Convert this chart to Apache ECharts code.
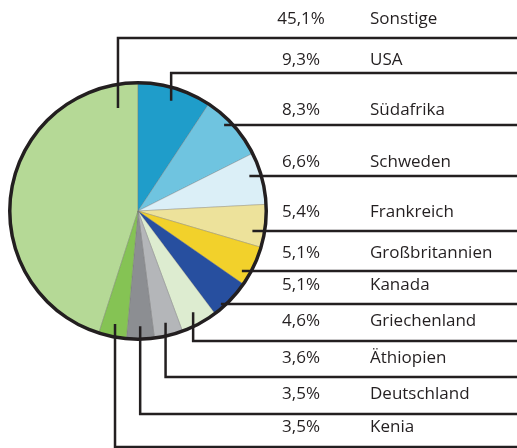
<!DOCTYPE html>
<html>
<head>
<meta charset="utf-8">
<script src="https://cdn.jsdelivr.net/npm/echarts@6/dist/echarts.min.js"></script>
<style>
  html, body { margin: 0; padding: 0; background: #fff; }
  #chart { width: 517px; height: 448px; }
</style>
</head>
<body>
<div id="chart"></div>
<script>
// Anteile in Prozent, Reihenfolge wie die Beschriftung rechts
const countries = ['Sonstige', 'USA', 'Südafrika', 'Schweden', 'Frankreich', 'Großbritannien', 'Kanada', 'Griechenland', 'Äthiopien', 'Deutschland', 'Kenia']
const shares = [45.1, 9.3, 8.3, 6.6, 5.4, 5.1, 5.1, 4.6, 3.6, 3.5, 3.5]
const colors = ['#b5d996', '#1f9dca', '#6fc4e0', '#dbeff7', '#ede29b', '#f2d12b', '#274f9f', '#ddecd0', '#b4b6b9', '#8c8e92', '#85c354']

// Layout
const CX = 138, CY = 211, R = 128
const lineY = [38, 73, 125, 176, 231, 271, 304, 341, 377, 414, 447] // y der Linien
const textY = [19, 60, 110, 162, 212, 253, 285, 321, 358, 394, 427] // y der Texte
const ink = '#231f20'

const total = shares.reduce((a, b) => a + b, 0)
// Sonstige endet oben, danach USA im Uhrzeigersinn
const startAngle = 90 + 360 * shares[0] / total

function fmt(v) {
  return v.toFixed(1).replace('.', ',') + '%'
}

const chart = echarts.init(document.getElementById('chart'))

const pieData = countries.map((name, i) => ({
  name: name,
  value: shares[i],
  itemStyle: { color: colors[i] }
}))

chart.setOption({
  animation: false,
  textStyle: { fontFamily: 'Open Sans' },
  series: [
    {
      type: 'pie',
      center: [CX, CY],
      radius: R,
      startAngle: startAngle,
      silent: true,
      itemStyle: { borderColor: 'rgba(110,110,110,0.55)', borderWidth: 0.6 },
      label: { show: false },
      labelLine: { show: false },
      data: pieData
    },
    {
      // schwarzer Rand
      type: 'pie',
      center: [CX, CY],
      radius: [R - 1.5, R + 2],
      silent: true,
      label: { show: false },
      labelLine: { show: false },
      itemStyle: { color: ink },
      data: [{ value: 1 }]
    },
    {
      // gleiche Torte, durchsichtig, nur fuer Linien und Texte obendrauf
      type: 'pie',
      z: 5,
      center: [CX, CY],
      radius: R,
      startAngle: startAngle,
      silent: true,
      avoidLabelOverlap: false,
      itemStyle: { color: 'rgba(0,0,0,0)', borderWidth: 0 },
      label: {
        show: true,
        position: 'outside',
        formatter: (p) => '{p|' + fmt(shares[p.dataIndex]) + '}{n|' + countries[p.dataIndex] + '}',
        rich: {
          p: { width: 62, align: 'right', fontSize: 17, color: ink, fontFamily: 'Open Sans' },
          n: { padding: [0, 0, 0, 38], fontSize: 17, color: ink, fontFamily: 'Open Sans' }
        }
      },
      labelLine: {
        show: true,
        length: 5,
        length2: 5,
        lineStyle: { color: ink, width: 2.5 }
      },
      labelLayout: function (params) {
        const i = params.dataIndex
        const y = lineY[i]
        let p
        if (i === 0) {
          // Sonstige: Linie oben links neben der Mitte
          const a = -11 * Math.PI / 180
          p = [CX + Math.sin(a) * R * 0.82, CY - Math.cos(a) * R * 0.82]
        } else {
          const e = params.labelLinePoints[0]
          p = [CX + (e[0] - CX) * 0.9, CY + (e[1] - CY) * 0.9]
        }
        const side = i >= 2 && i <= 6
        const start = side ? [p[0], y] : p
        return {
          x: 270,
          y: textY[i],
          align: 'left',
          verticalAlign: 'middle',
          labelLinePoints: [start, [p[0], y], [chart.getWidth(), y]]
        }
      },
      data: countries.map((name, i) => ({ name: name, value: shares[i] }))
    }
  ]
})
</script>
</body>
</html>
